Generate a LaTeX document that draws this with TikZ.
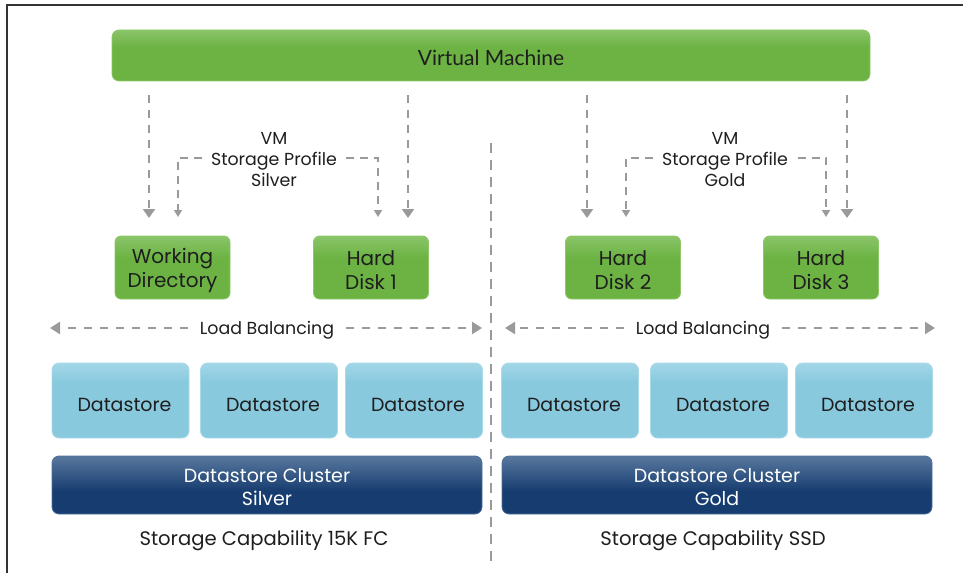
\documentclass[tikz,border=0pt]{standalone}
\usepackage{fontspec}
\setmainfont{Poppins}
\newfontfamily\vmfont{Lato}
\usetikzlibrary{arrows.meta,calc}
\definecolor{vmgreen}{HTML}{6CB344}
\definecolor{vmgreenlt}{HTML}{B9DEA0}
\definecolor{vmgreenbd}{HTML}{8CC866}
\definecolor{dsblue}{HTML}{88C9DE}
\definecolor{dsbluelt}{HTML}{D6F0F8}
\definecolor{dsbluebd}{HTML}{A9DAEA}
\definecolor{clblue}{HTML}{173D70}
\definecolor{clbluelt}{HTML}{8FA9C4}
\definecolor{clbluebd}{HTML}{4F6E9C}
\definecolor{dashgray}{HTML}{9A9A9A}
\definecolor{txt}{HTML}{1E1E1E}
\newcommand\topstrut[1]{\rule{0pt}{#1}}
\pgfdeclareverticalshading{greengloss}{100bp}{color(0bp)=(vmgreen); color(58bp)=(vmgreen); color(100bp)=(vmgreenlt)}
\pgfdeclareverticalshading{bluegloss}{100bp}{color(0bp)=(dsblue); color(62bp)=(dsblue); color(100bp)=(dsbluelt)}
\pgfdeclareverticalshading{navygloss}{100bp}{color(0bp)=(clblue); color(45bp)=(clblue); color(100bp)=(clbluelt)}
\tikzset{
  greenbox/.style={draw=vmgreenbd, line width=0.8pt, shading=greengloss, rounded corners=6pt,
    minimum width=115pt, minimum height=63pt, align=center, text=txt, font=\fontsize{20}{24}\selectfont},
  dsbox/.style={draw=dsbluebd, line width=0.8pt, shading=bluegloss, rounded corners=7pt,
    minimum width=137pt, minimum height=75pt, text=txt, font=\fontsize{19}{22}\selectfont,
    text height=22pt, text depth=0pt},
  clbox/.style={draw=clbluebd, line width=0.8pt, shading=navygloss, rounded corners=7pt,
    minimum width=430pt, minimum height=58pt, align=center, text=white, font=\fontsize{19}{23}\selectfont},
  lbl/.style={text=txt, font=\fontsize{17.4}{21}\selectfont, align=center},
  dasharrow/.style={draw=dashgray, line width=2.4pt, dash pattern=on 8pt off 7pt,
    -{Triangle[width=12pt,length=9pt]}},
  brackarrow/.style={draw=dashgray, line width=2pt, dash pattern=on 8pt off 6pt,
    -{Triangle[width=8pt,length=7pt]}},
  lbarrow/.style={draw=dashgray, line width=2.2pt, dash pattern=on 8pt off 8pt,
    -{Triangle[width=12pt,length=10pt]}},
  divider/.style={draw=dashgray, line width=2.2pt, dash pattern=on 10pt off 7pt},
}
\begin{document}
\begin{tikzpicture}[x=1pt,y=-1pt]
\useasboundingbox (0,0) rectangle (965,575);
% frame
\coordinate (fa) at (963,5);
\coordinate (fb) at (7,5);
\coordinate (fc) at (7,573);
\draw[line width=1.5pt, color=black!80] (fa) -- (fb) -- (fc);

% virtual machine
\node[draw=vmgreenbd, line width=0.8pt, shading=greengloss, rounded corners=7pt,
  minimum width=758pt, minimum height=51pt, text=txt, font=\vmfont\fontsize{21}{24}\selectfont,
  text depth=0pt, text height=21pt]
  (vm) at (491,55.5) {Virtual Machine};

% disk boxes
\node[greenbox] (wd)  at (172.5,267.5) {\topstrut{21pt}Working\\Directory};
\node[greenbox] (hd1) at (371,267.5) {\topstrut{21pt}Hard\\Disk 1};
\node[greenbox] (hd2) at (623,267.5) {\topstrut{21pt}Hard\\Disk 2};
\node[greenbox] (hd3) at (821,267.5) {\topstrut{21pt}Hard\\Disk 3};

% arrow targets
\coordinate (t1) at (149,218);
\coordinate (t2) at (408,218);
\coordinate (t3) at (587,218);
\coordinate (t4) at (847,218);
\draw[dasharrow, shorten <=14pt] (vm.south -| t1) -- (t1);
\draw[dasharrow, shorten <=14pt] (vm.south -| t2) -- (t2);
\draw[dasharrow, shorten <=14pt] (vm.south -| t3) -- (t3);
\draw[dasharrow, shorten <=14pt] (vm.south -| t4) -- (t4);

% storage profiles
\node[lbl] (p1) at (274,158) {\topstrut{16pt}VM\\Storage Profile\\Silver};
\node[lbl] (p2) at (725,158) {\topstrut{16pt}VM\\Storage Profile\\Gold};
\coordinate (b1) at (178,217);
\coordinate (b2) at (378,217);
\coordinate (b3) at (626,217);
\coordinate (b4) at (826,217);
\draw[brackarrow] ([xshift=-6pt]p1.west) -| (b1);
\draw[brackarrow] ([xshift=6pt]p1.east) -| (b2);
\draw[brackarrow] ([xshift=-6pt]p2.west) -| (b3);
\draw[brackarrow] ([xshift=6pt]p2.east) -| (b4);

% divider
\coordinate (dv1) at (491,143);
\coordinate (dv2) at (491,566);
\draw[divider] (dv1) -- (dv2);

% load balancing
\node[lbl, inner xsep=12pt] (lb1) at (267,330) {Load Balancing};
\node[lbl, inner xsep=12pt] (lb2) at (703,330) {Load Balancing};
\coordinate (l1a) at (50,328);
\coordinate (l1b) at (482,328);
\coordinate (l2a) at (505,328);
\coordinate (l2b) at (935,328);
\draw[lbarrow] (lb1.west |- l1a) -- (l1a);
\draw[lbarrow] (lb1.east |- l1b) -- (l1b);
\draw[lbarrow] (lb2.west |- l2a) -- (l2a);
\draw[lbarrow] (lb2.east |- l2b) -- (l2b);

% datastores
\node[dsbox] (ds1) at (120.5,400.5) {\hspace*{8pt}Datastore};
\node[dsbox] (ds2) at (269,400.5) {\hspace*{8pt}Datastore};
\node[dsbox] (ds3) at (414,400.5) {\hspace*{8pt}Datastore};
\node[dsbox] (ds4) at (570,400.5) {\hspace*{8pt}Datastore};
\node[dsbox] (ds5) at (719,400.5) {\hspace*{8pt}Datastore};
\node[dsbox] (ds6) at (864,400.5) {\hspace*{8pt}Datastore};

% clusters
\node[clbox] (cl1) at (267,485) {\topstrut{18.5pt}Datastore Cluster\\Silver};
\node[clbox] (cl2) at (717,485) {\topstrut{18.5pt}Datastore Cluster\\Gold};

% capability
\node[lbl, font=\fontsize{19.6}{22}\selectfont] (sc1) at (264,541) {Storage Capability 15K FC};
\node[lbl, font=\fontsize{19.6}{22}\selectfont] (sc2) at (713,541) {Storage Capability SSD};
\end{tikzpicture}
\end{document}
